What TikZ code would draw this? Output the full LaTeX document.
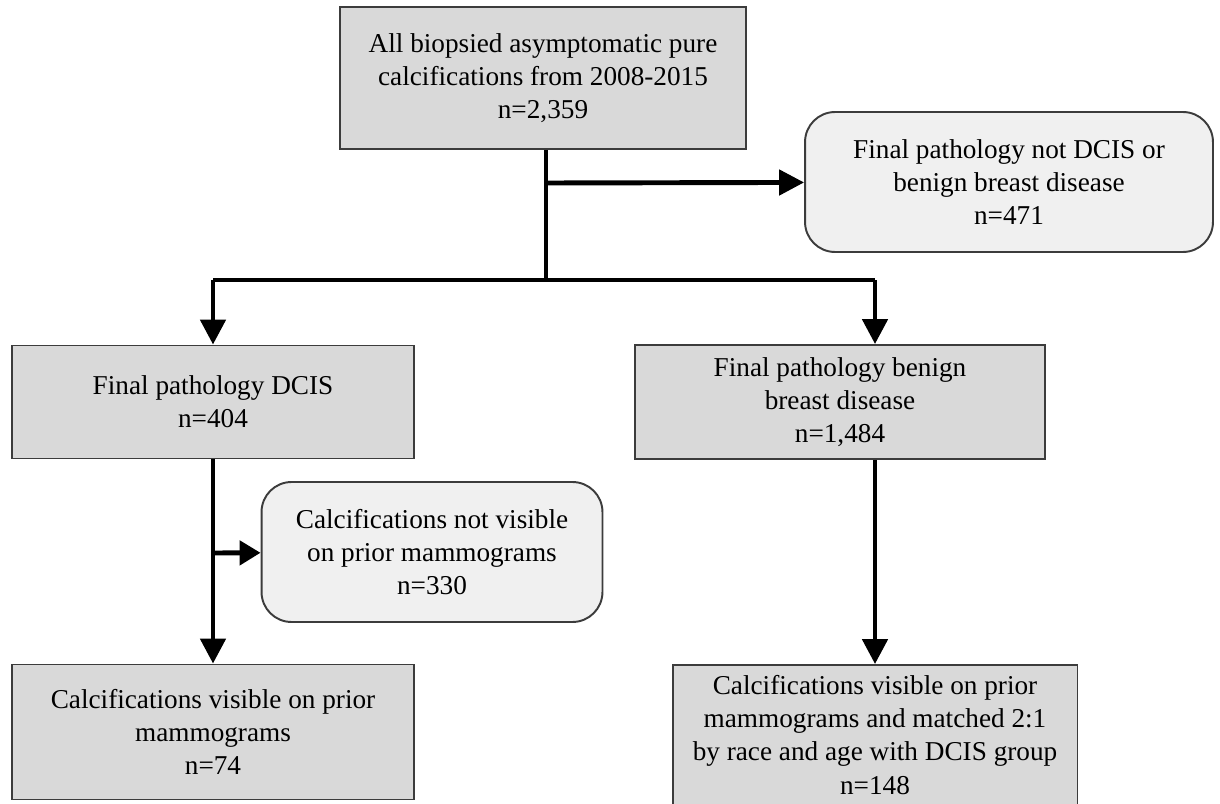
\documentclass[tikz,border=0pt]{standalone}
\usepackage{fontspec}
\setmainfont{Liberation Serif}
\usepackage{tikz}
\usetikzlibrary{arrows.meta, positioning, calc}
\definecolor{boxgray}{RGB}{217,217,217}
\definecolor{softgray}{RGB}{240,240,240}
\definecolor{edgegray}{RGB}{60,60,60}

\begin{document}
\begin{tikzpicture}[
    x=0.02cm, y=-0.02cm,
    box/.style={draw=edgegray, line width=1.1pt, fill=boxgray, align=center, inner sep=0pt, font=\fontsize{15.5}{18.8}\selectfont},
    softbox/.style={box, fill=softgray, rounded corners=0.6cm},
    link/.style={line width=2.8pt, black},
    arrow/.style={link, -{Triangle[length=0.5cm, width=0.5cm]}},
    smallarrow/.style={link, -{Triangle[length=0.42cm, width=0.48cm]}}
]
    \useasboundingbox (0,0) rectangle (1220,804);

    \node[box, minimum width=8.12cm, minimum height=2.84cm] (all) at (543,78) {All biopsied asymptomatic pure\\calcifications from 2008-2015\\n=2,359};
    \node[softbox, minimum width=8.16cm, minimum height=2.8cm] (notdcis) at (1009,182) {Final pathology not DCIS or\\benign breast disease\\n=471};
    \node[box, minimum width=8.06cm, minimum height=2.26cm] (dcis) at (213,402) {Final pathology DCIS\\n=404};
    \node[box, minimum width=8.2cm, minimum height=2.28cm] (benign) at (840,402) {Final pathology benign\\breast disease\\n=1,484};
    \node[softbox, minimum width=6.82cm, minimum height=2.8cm] (notvis) at (432,552) {Calcifications not visible\\on prior mammograms\\n=330};
    \node[box, minimum width=8.06cm, minimum height=2.7cm] (vis) at (213,732) {Calcifications visible on prior\\mammograms\\n=74};
    \node[box, minimum width=8.1cm, minimum height=2.8cm] (matched) at (875,735) {Calcifications visible on prior\\mammograms and matched 2:1\\by race and age with DCIS group\\n=148};

    \coordinate (split) at (546,183);
    \coordinate (mid) at (546,280);
    \coordinate (left) at (213,280);
    \coordinate (right) at (875,280);
    \coordinate (side) at (213,553);

    \draw[link] (all.south -| mid) -- (mid);
    \draw[arrow] (split) -- (notdcis);
    \draw[link] (left) -- (right);
    \draw[arrow] (left) -- (dcis);
    \draw[arrow] (right) -- (right |- benign.north);
    \draw[arrow] (dcis) -- (vis);
    \draw[smallarrow] (side) -- (notvis);
    \draw[arrow] (benign.south -| matched) -- (matched);
\end{tikzpicture}
\end{document}
